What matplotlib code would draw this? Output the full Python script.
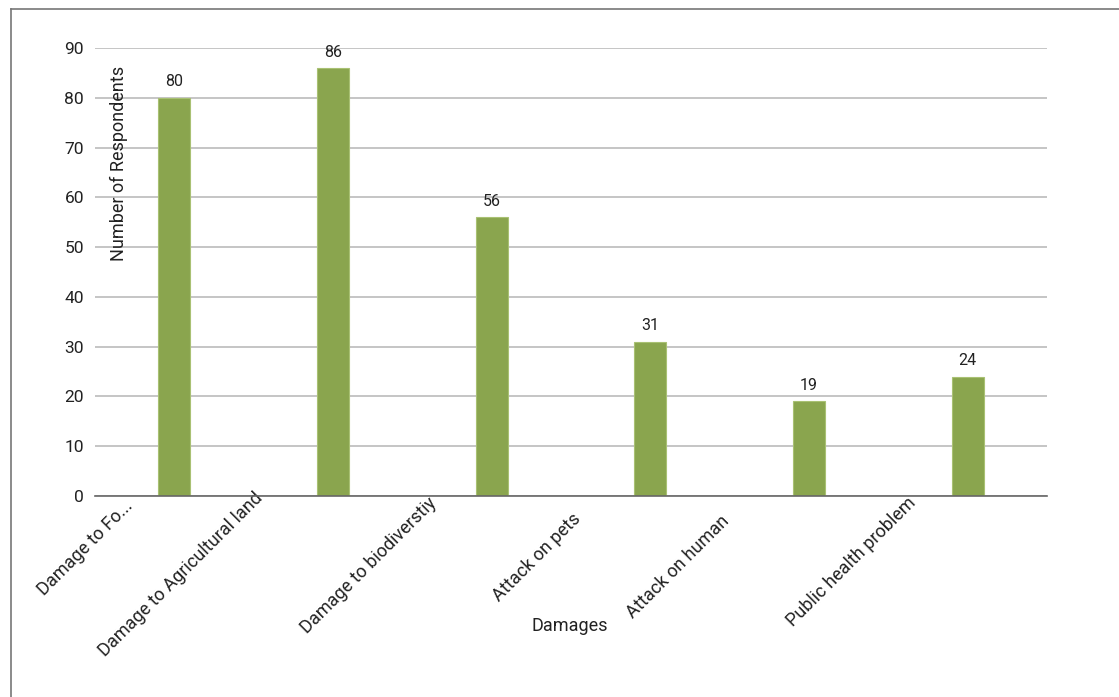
import matplotlib
matplotlib.use("Agg")
import matplotlib.pyplot as plt
from matplotlib.lines import Line2D
import matplotlib.transforms as mtransforms

categories = ["Damage to Fo...", "Damage to Agricultural land", "Damage to biodiverstiy",
              "Attack on pets", "Attack on human", "Public health problem"]
values = [80, 86, 56, 31, 19, 24]
yticks = [0, 10, 20, 30, 40, 50, 60, 70, 80, 90]

# layout: where each slanted category label ends (x data units) and pixel shift (up +) from axis
label_end_x = [-0.317, 0.502, 1.592, 2.506, 3.438, 4.617]
label_end_dy = [-1, 7, 2, -14, -16, 2]

plt.rcParams['font.family'] = ['Roboto', 'DejaVu Sans']

fig = plt.figure(figsize=(11.19, 6.97), dpi=100)
ax = fig.add_axes([0.0849, 0.2884, 0.9357 - 0.0849, 0.9311 - 0.2884])

x = list(range(len(values)))
ax.bar(x, values, width=0.2, color="#8aa54e", edgecolor="#a9c173", linewidth=0.8, zorder=3)
for xi, v in zip(x, values):
    ax.annotate(str(v), (xi, v), xytext=(0, 6), textcoords="offset points",
                ha="center", va="bottom", fontsize=11.5, color="#222222")

ax.set_xlim(-0.5, len(values) - 0.5)
ax.set_ylim(0, 90)
ax.set_yticks(yticks)
ax.set_yticklabels([str(t) for t in yticks], fontsize=12.5, color="#222222")
ax.yaxis.grid(True, color="#bbbbbb", linewidth=1.2, zorder=0)
ax.set_xticks([])
ax.tick_params(axis="y", length=0, pad=8)
for s in ["left", "right", "top"]:
    ax.spines[s].set_visible(False)
ax.spines["bottom"].set_color("#666666")
ax.spines["bottom"].set_linewidth(1.2)
ax.spines["bottom"].set_zorder(4)

for lab, lx, dy in zip(categories, label_end_x, label_end_dy):
    tr = ax.get_xaxis_transform() + mtransforms.ScaledTranslation(0, dy / 100, fig.dpi_scale_trans)
    ax.text(lx, 0, lab, transform=tr, rotation=45, rotation_mode="anchor",
            ha="right", va="top", fontsize=13, color="#222222")

fig.text(119 / 1119, 1 - 163 / 697, "Number of Respondents", rotation=90,
         ha="center", va="center", fontsize=13, color="#222222")
fig.text(570 / 1119, 1 - 626 / 697, "Damages", ha="center", va="center",
         fontsize=13, color="#222222")

fig.add_artist(Line2D([11 / 1119, 11 / 1119], [0, 1 - 9 / 697], transform=fig.transFigure,
                      color="#777777", linewidth=1.2))
fig.add_artist(Line2D([11 / 1119, 1], [1 - 9 / 697, 1 - 9 / 697], transform=fig.transFigure,
                      color="#777777", linewidth=1.2))

fig.savefig("out.png", dpi=100)
